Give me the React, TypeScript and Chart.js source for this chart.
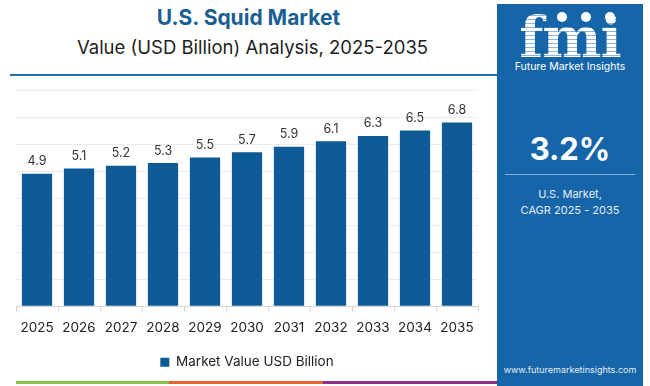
import React, { useEffect, useRef } from "react";
import { Chart, registerables } from "chart.js";

Chart.register(...registerables);

const categories = ["2025", "2026", "2027", "2028", "2029", "2030", "2031", "2032", "2033", "2034", "2035"];
const values = [4.9, 5.1, 5.2, 5.3, 5.5, 5.7, 5.9, 6.1, 6.3, 6.5, 6.8];
const seriesName = "Market Value USD Billion";
const title = "U.S. Squid Market";
const subtitle = "Value (USD Billion) Analysis, 2025-2035";
const cagr = "3.2%";
const cagrLabel1 = "U.S. Market,";
const cagrLabel2 = "CAGR 2025 - 2035";

const BAR = "#0d5a94";
const FONT = "Inter, 'Open Sans', sans-serif";

const valueLabels = {
  id: "valueLabels",
  afterDatasetsDraw(chart: any) {
    const ctx = chart.ctx;
    const meta = chart.getDatasetMeta(0);
    ctx.save();
    ctx.font = `12.5px ${FONT}`;
    ctx.fillStyle = "#333333";
    ctx.textAlign = "center";
    ctx.textBaseline = "bottom";
    meta.data.forEach((el: any, i: number) => {
      ctx.fillText(String(values[i]), el.x, el.y - 6);
    });
    ctx.restore();
  },
};

export default function App() {
  const ref = useRef<HTMLCanvasElement>(null);
  useEffect(() => {
    const chart = new Chart(ref.current!, {
      type: "bar",
      data: {
        labels: categories,
        datasets: [
          {
            label: seriesName,
            data: values,
            backgroundColor: BAR,
            barPercentage: 0.72,
            categoryPercentage: 1,
          },
        ],
      },
      options: {
        animation: false,
        responsive: false,
        maintainAspectRatio: false,
        layout: { padding: { left: 16, right: 17, top: 10, bottom: 0 } },
        plugins: {
          tooltip: { enabled: false },
          legend: {
            position: "bottom",
            labels: {
              boxWidth: 9,
              boxHeight: 9,
              color: "#222",
              font: { family: FONT, size: 13.5 },
              padding: 10,
            },
          },
        },
        scales: {
          y: {
            min: 0,
            max: 8,
            ticks: { display: false, stepSize: 1 },
            border: { display: false },
            grid: { color: "#ececec", drawTicks: false },
          },
          x: {
            ticks: { color: "#222", font: { family: FONT, size: 13.5 }, padding: 9 },
            border: { color: "#d6d6d6" },
            grid: { drawOnChartArea: false, drawTicks: true, tickLength: 5, color: "#d6d6d6" },
          },
        },
      },
      plugins: [valueLabels],
    });
    return () => chart.destroy();
  }, []);

  return (
    <div style={{ position: "absolute", left: 0, top: 0, width: 650, height: 386, background: "#fff", overflow: "hidden", fontFamily: FONT }}>
      <div style={{ position: "absolute", left: 0, top: 5, width: 497, textAlign: "center", color: "#1a5e94", fontWeight: 700, fontSize: 21, lineHeight: "26px" }}>{title}</div>
      <div style={{ position: "absolute", left: 0, top: 36, width: 505, textAlign: "center", color: "#1e1e1e", fontSize: 18.5, lineHeight: "22px" }}>{subtitle}</div>
      <div style={{ position: "absolute", left: 10, top: 74, width: 487, height: 2, background: "#2370ad" }} />
      <canvas ref={ref} width={495} height={299} style={{ position: "absolute", left: 0, top: 80, width: 495, height: 299 }} />
      <div style={{ position: "absolute", left: 16, top: 381, width: 153, height: 3, background: "#8bc34a" }} />
      <div style={{ position: "absolute", left: 169, top: 381, width: 154, height: 3, background: "#e8622c" }} />
      <div style={{ position: "absolute", left: 323, top: 381, width: 174, height: 3, background: "#8e2f8c" }} />
      <div style={{ position: "absolute", left: 497, top: 4, width: 146, height: 382, background: "#1565a8" }}>
        <div style={{ position: "absolute", left: 0, top: 4, width: 146, textAlign: "center", fontFamily: "'DejaVu Serif', serif", fontWeight: 700, fontSize: 56, lineHeight: "58px", color: "#fff", letterSpacing: -1,
          backgroundImage: "repeating-linear-gradient(180deg, #ffffff 0px, #ffffff 3px, #8fb6d8 3px, #8fb6d8 4px)", WebkitBackgroundClip: "text", backgroundClip: "text", WebkitTextFillColor: "transparent" }}>fmi</div>
        <div style={{ position: "absolute", left: 60, top: 8, width: 10, height: 10, borderRadius: 5, background: "#fff" }} />
        <div style={{ position: "absolute", left: 84, top: 8, width: 10, height: 10, borderRadius: 5, background: "#fff" }} />
        <div style={{ position: "absolute", left: 108, top: 8, width: 10, height: 10, borderRadius: 5, background: "#fff" }} />
        <div style={{ position: "absolute", left: 0, top: 57, width: 146, textAlign: "center", color: "#fff", fontSize: 10.5, lineHeight: "12px" }}>Future Market Insights</div>
        <div style={{ position: "absolute", left: 0, top: 127, width: 146, textAlign: "center", color: "#fff", fontWeight: 700, fontSize: 31, lineHeight: "36px" }}>{cagr}</div>
        <div style={{ position: "absolute", left: 8, top: 170, width: 130, height: 1, background: "#7fb0dc" }} />
        <div style={{ position: "absolute", left: 0, top: 182, width: 146, textAlign: "center", color: "#e6eef6", fontSize: 11, lineHeight: "16px" }}>{cagrLabel1}<br />{cagrLabel2}</div>
        <div style={{ position: "absolute", left: 0, top: 360, width: 146, textAlign: "center", color: "#e6eef6", fontSize: 9, lineHeight: "12px" }}>www.futuremarketinsights.com</div>
      </div>
    </div>
  );
}
